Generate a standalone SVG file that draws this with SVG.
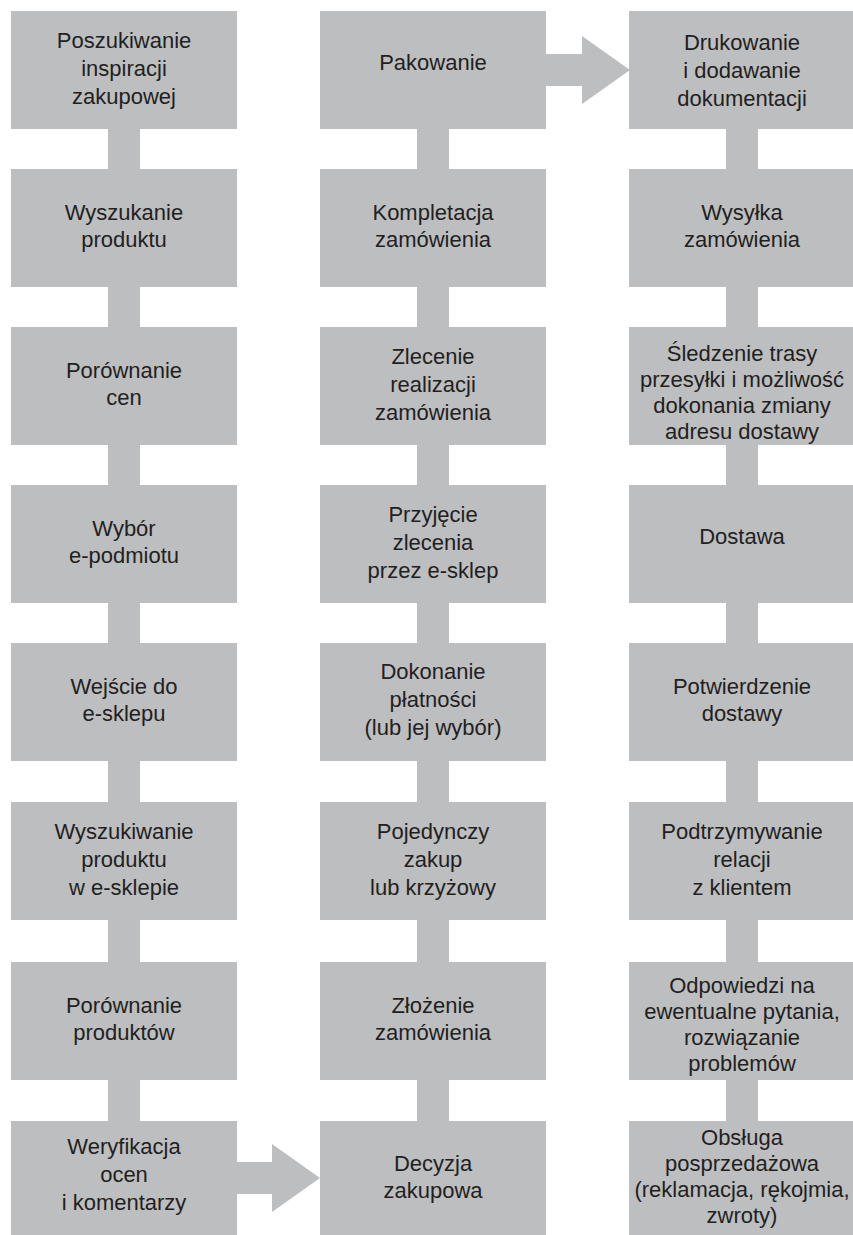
<svg xmlns="http://www.w3.org/2000/svg" width="853" height="1235" viewBox="0 0 853 1235">
<style>
.box{fill:#bcbec0}
.con{fill:#bcbec0}
text{font-family:"Liberation Sans",Arial,sans-serif;font-size:22px;fill:#231f20;text-anchor:middle}
</style>
<rect width="853" height="1235" fill="#ffffff"/>
<g id="connectors">
<rect class="con" x="108" y="129" width="32" height="40"/>
<rect class="con" x="108" y="287" width="32" height="40"/>
<rect class="con" x="108" y="445" width="32" height="40"/>
<rect class="con" x="108" y="603" width="32" height="40"/>
<rect class="con" x="108" y="761" width="32" height="41"/>
<rect class="con" x="108" y="920" width="32" height="42"/>
<rect class="con" x="108" y="1080" width="32" height="41"/>
<rect class="con" x="417" y="129" width="32" height="40"/>
<rect class="con" x="417" y="287" width="32" height="40"/>
<rect class="con" x="417" y="445" width="32" height="40"/>
<rect class="con" x="417" y="603" width="32" height="40"/>
<rect class="con" x="417" y="761" width="32" height="41"/>
<rect class="con" x="417" y="920" width="32" height="42"/>
<rect class="con" x="417" y="1080" width="32" height="41"/>
<rect class="con" x="726" y="129" width="32" height="40"/>
<rect class="con" x="726" y="287" width="32" height="40"/>
<rect class="con" x="726" y="445" width="32" height="40"/>
<rect class="con" x="726" y="603" width="32" height="40"/>
<rect class="con" x="726" y="761" width="32" height="41"/>
<rect class="con" x="726" y="920" width="32" height="42"/>
<rect class="con" x="726" y="1080" width="32" height="41"/>
<polygon class="con" points="546,54 582,54 582,36 630,70 582,104 582,86 546,86"/>
<polygon class="con" points="237,1162 272,1162 272,1144 320,1178 272,1212 272,1194 237,1194"/>
</g>
<g id="n1-1"><rect class="box" x="11" y="11" width="226" height="118"/><text><tspan x="124" y="48">Poszukiwanie</tspan><tspan x="124" y="76">inspiracji</tspan><tspan x="124" y="104">zakupowej</tspan></text></g>
<g id="n1-2"><rect class="box" x="11" y="169" width="226" height="118"/><text><tspan x="124" y="219.5">Wyszukanie</tspan><tspan x="124" y="246.5">produktu</tspan></text></g>
<g id="n1-3"><rect class="box" x="11" y="327" width="226" height="118"/><text><tspan x="124" y="377.5">Porównanie</tspan><tspan x="124" y="404.5">cen</tspan></text></g>
<g id="n1-4"><rect class="box" x="11" y="485" width="226" height="118"/><text><tspan x="124" y="535.5">Wybór</tspan><tspan x="124" y="562.5">e-podmiotu</tspan></text></g>
<g id="n1-5"><rect class="box" x="11" y="643" width="226" height="118"/><text><tspan x="124" y="693.5">Wejście do</tspan><tspan x="124" y="720.5">e-sklepu</tspan></text></g>
<g id="n1-6"><rect class="box" x="11" y="802" width="226" height="118"/><text><tspan x="124" y="839">Wyszukiwanie</tspan><tspan x="124" y="867">produktu</tspan><tspan x="124" y="895">w e-sklepie</tspan></text></g>
<g id="n1-7"><rect class="box" x="11" y="962" width="226" height="118"/><text><tspan x="124" y="1012.5">Porównanie</tspan><tspan x="124" y="1039.5">produktów</tspan></text></g>
<g id="n1-8"><rect class="box" x="11" y="1121" width="226" height="114"/><text><tspan x="124" y="1154">Weryfikacja</tspan><tspan x="124" y="1182">ocen</tspan><tspan x="124" y="1210">i komentarzy</tspan></text></g>

<g id="n2-1"><rect class="box" x="320" y="11" width="226" height="118"/><text x="433" y="70">Pakowanie</text></g>
<g id="n2-2"><rect class="box" x="320" y="169" width="226" height="118"/><text><tspan x="433" y="219.5">Kompletacja</tspan><tspan x="433" y="246.5">zamówienia</tspan></text></g>
<g id="n2-3"><rect class="box" x="320" y="327" width="226" height="118"/><text><tspan x="433" y="364">Zlecenie</tspan><tspan x="433" y="392">realizacji</tspan><tspan x="433" y="420">zamówienia</tspan></text></g>
<g id="n2-4"><rect class="box" x="320" y="485" width="226" height="118"/><text><tspan x="433" y="522">Przyjęcie</tspan><tspan x="433" y="550">zlecenia</tspan><tspan x="433" y="578">przez e-sklep</tspan></text></g>
<g id="n2-5"><rect class="box" x="320" y="643" width="226" height="118"/><text><tspan x="433" y="679">Dokonanie</tspan><tspan x="433" y="707">płatności</tspan><tspan x="433" y="735">(lub jej wybór)</tspan></text></g>
<g id="n2-6"><rect class="box" x="320" y="802" width="226" height="118"/><text><tspan x="433" y="839">Pojedynczy</tspan><tspan x="433" y="867">zakup</tspan><tspan x="433" y="895">lub krzyżowy</tspan></text></g>
<g id="n2-7"><rect class="box" x="320" y="962" width="226" height="118"/><text><tspan x="433" y="1012.5">Złożenie</tspan><tspan x="433" y="1039.5">zamówienia</tspan></text></g>
<g id="n2-8"><rect class="box" x="320" y="1121" width="226" height="114"/><text><tspan x="433" y="1171">Decyzja</tspan><tspan x="433" y="1198">zakupowa</tspan></text></g>

<g id="n3-1"><rect class="box" x="629" y="11" width="226" height="118"/><text><tspan x="742" y="50">Drukowanie</tspan><tspan x="742" y="78">i dodawanie</tspan><tspan x="742" y="106">dokumentacji</tspan></text></g>
<g id="n3-2"><rect class="box" x="629" y="169" width="226" height="118"/><text><tspan x="742" y="219.5">Wysyłka</tspan><tspan x="742" y="246.5">zamówienia</tspan></text></g>
<g id="n3-3"><rect class="box" x="629" y="327" width="226" height="118"/><text><tspan x="742" y="361">Śledzenie trasy</tspan><tspan x="742" y="387">przesyłki i możliwość</tspan><tspan x="742" y="413">dokonania zmiany</tspan><tspan x="742" y="439">adresu dostawy</tspan></text></g>
<g id="n3-4"><rect class="box" x="629" y="485" width="226" height="118"/><text x="742" y="544">Dostawa</text></g>
<g id="n3-5"><rect class="box" x="629" y="643" width="226" height="118"/><text><tspan x="742" y="693.5">Potwierdzenie</tspan><tspan x="742" y="720.5">dostawy</tspan></text></g>
<g id="n3-6"><rect class="box" x="629" y="802" width="226" height="118"/><text><tspan x="742" y="839">Podtrzymywanie</tspan><tspan x="742" y="867">relacji</tspan><tspan x="742" y="895">z klientem</tspan></text></g>
<g id="n3-7"><rect class="box" x="629" y="962" width="226" height="118"/><text><tspan x="742" y="993">Odpowiedzi na</tspan><tspan x="742" y="1019">ewentualne pytania,</tspan><tspan x="742" y="1045">rozwiązanie</tspan><tspan x="742" y="1071">problemów</tspan></text></g>
<g id="n3-8"><rect class="box" x="629" y="1121" width="226" height="114"/><text><tspan x="742" y="1145">Obsługa</tspan><tspan x="742" y="1171">posprzedażowa</tspan><tspan x="742" y="1197">(reklamacja, rękojmia,</tspan><tspan x="742" y="1223">zwroty)</tspan></text></g>
</svg>
